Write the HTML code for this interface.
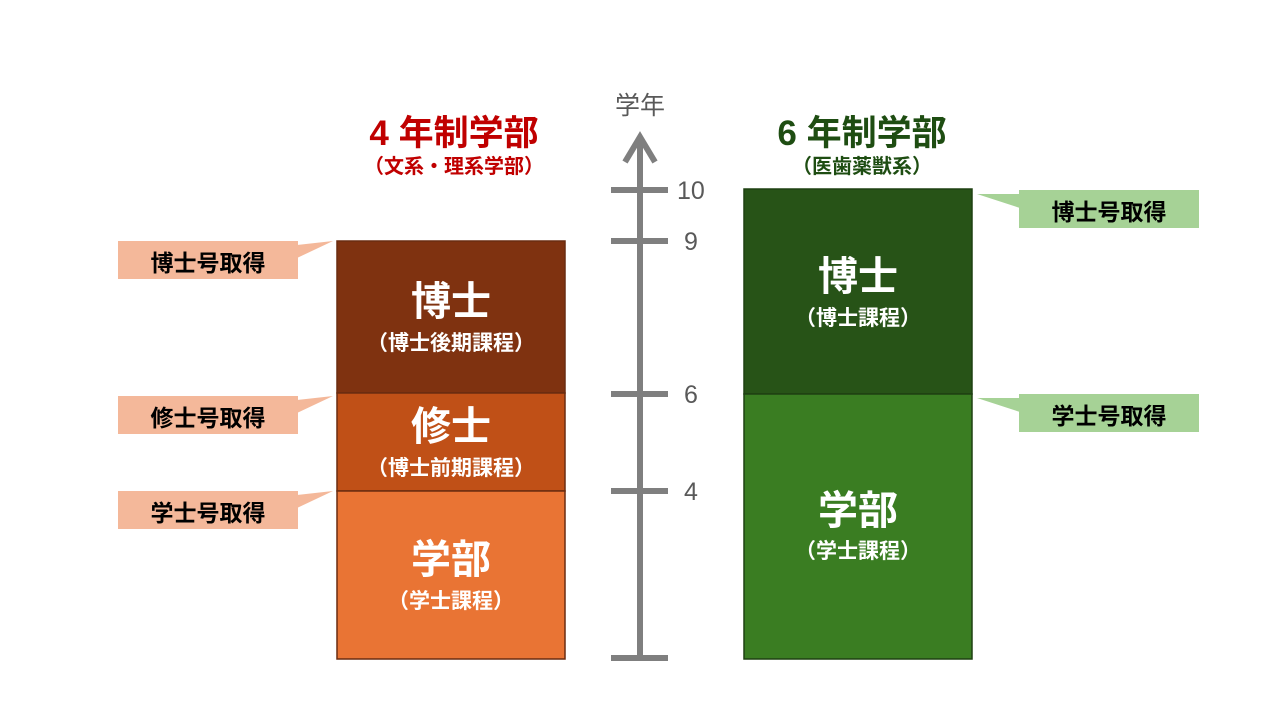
<!DOCTYPE html>
<html><head><meta charset="utf-8"><style>
body{margin:0;width:1280px;height:720px;background:#fff;position:relative;overflow:hidden;font-family:"Liberation Sans","Noto Sans CJK JP",sans-serif}
.a{position:absolute}
.t{position:absolute;text-align:center;color:#fff;font-weight:bold}
.c{position:absolute;width:180px;text-align:center;font-size:23px;font-weight:bold}
</style></head><body>
<svg class="a" style="left:0;top:0" width="1280" height="720">
<g fill="#f4b89a"><rect x="118" y="241" width="180" height="38"/><polygon points="297,245 333,241 297,258"/>
<rect x="118" y="396" width="180" height="38"/><polygon points="297,400 333,396 297,413"/>
<rect x="118" y="491" width="180" height="38"/><polygon points="297,495 333,491 297,508"/></g>
<g fill="#a6d296"><rect x="1019" y="190" width="180" height="38"/><polygon points="1020,194 977,194 1020,208"/>
<rect x="1019" y="394" width="180" height="38"/><polygon points="1020,398 977,398 1020,412"/></g>
<g stroke="#6a2c10" stroke-width="1.5">
<rect x="337" y="241" width="228" height="152" fill="#7f3210"/>
<rect x="337" y="393" width="228" height="98" fill="#c05017"/>
<rect x="337" y="491" width="228" height="168" fill="#e97434"/></g>
<g stroke="#1e4012" stroke-width="1.5">
<rect x="744" y="189" width="228" height="205" fill="#275317"/>
<rect x="744" y="394" width="228" height="265" fill="#3a7d22"/></g>
<g stroke="#7f7f7f" stroke-width="6" fill="none">
<line x1="640" y1="137" x2="640" y2="660"/>
<polyline points="625,162 640,137 655,162"/>
<line x1="611" y1="190" x2="668" y2="190"/><line x1="611" y1="241" x2="668" y2="241"/>
<line x1="611" y1="394" x2="668" y2="394"/><line x1="611" y1="491" x2="668" y2="491"/>
<line x1="611" y1="658" x2="668" y2="658"/></g>
<g fill="#595959" font-size="25" font-family="Liberation Sans,sans-serif">
<text x="677" y="199">10</text><text x="684" y="250">9</text><text x="684" y="403">6</text><text x="684" y="500">4</text></g>
</svg>
<div class="a" style="left:590px;top:86px;width:100px;text-align:center;font-size:25px;color:#595959">学年</div>
<div class="a" style="left:304px;top:105px;width:300px;text-align:center;font-size:35px;font-weight:bold;color:#c00000">4 年制学部</div>
<div class="a" style="left:304px;top:150px;width:300px;text-align:center;font-size:20px;font-weight:bold;color:#c00000">（文系・理系学部）</div>
<div class="a" style="left:712px;top:105px;width:300px;text-align:center;font-size:35px;font-weight:bold;color:#1e4d12">6 年制学部</div>
<div class="a" style="left:712px;top:150px;width:300px;text-align:center;font-size:20px;font-weight:bold;color:#1e4d12">（医歯薬獣系）</div>
<div class="c" style="left:118px;top:244px">博士号取得</div>
<div class="c" style="left:118px;top:399px">修士号取得</div>
<div class="c" style="left:118px;top:494px">学士号取得</div>
<div class="c" style="left:1019px;top:193px">博士号取得</div>
<div class="c" style="left:1019px;top:397px">学士号取得</div>
<div class="t" style="left:337px;top:269px;width:228px;font-size:40px">博士</div>
<div class="t" style="left:337px;top:327px;width:228px;font-size:21px">（博士後期課程）</div>
<div class="t" style="left:337px;top:394px;width:228px;font-size:40px">修士</div>
<div class="t" style="left:337px;top:452px;width:228px;font-size:21px">（博士前期課程）</div>
<div class="t" style="left:337px;top:527px;width:228px;font-size:40px">学部</div>
<div class="t" style="left:337px;top:585px;width:228px;font-size:21px">（学士課程）</div>
<div class="t" style="left:744px;top:244px;width:228px;font-size:40px">博士</div>
<div class="t" style="left:744px;top:302px;width:228px;font-size:21px">（博士課程）</div>
<div class="t" style="left:744px;top:478px;width:228px;font-size:40px">学部</div>
<div class="t" style="left:744px;top:535px;width:228px;font-size:21px">（学士課程）</div>
</body></html>
